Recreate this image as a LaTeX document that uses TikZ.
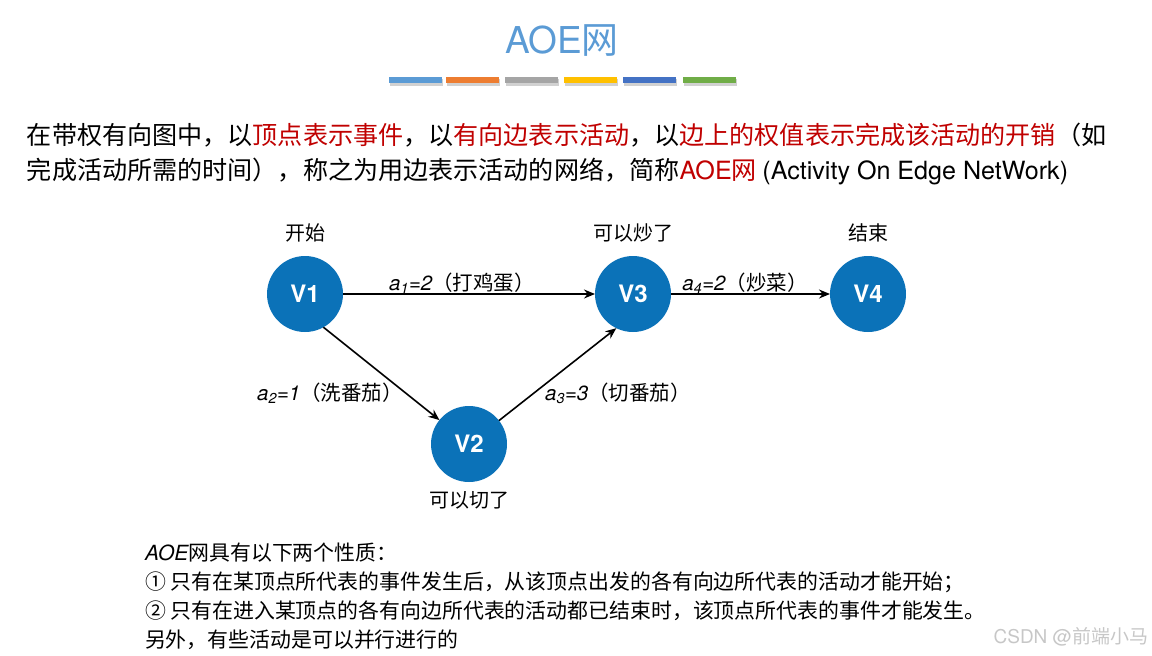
\documentclass[tikz,border=0pt]{standalone}
\usepackage{fontspec}
\setmainfont{Noto Sans CJK SC}
\newfontfamily\lat{TeX Gyre Heros}
\usetikzlibrary{arrows.meta}
\definecolor{nodeblue}{HTML}{0B72B8}
\definecolor{titleblue}{HTML}{5B9BD5}
\definecolor{hlred}{HTML}{C00000}
\definecolor{barA}{HTML}{5B9BD5}
\definecolor{barB}{HTML}{ED7D31}
\definecolor{barC}{HTML}{A5A5A5}
\definecolor{barD}{HTML}{FFC000}
\definecolor{barE}{HTML}{4472C4}
\definecolor{barF}{HTML}{70AD47}
\newcommand\fs[1]{\fontsize{#1}{#1}\selectfont}
\newcommand\ai[2]{{\lat\itshape a\textsubscript{#1}=#2}}
\begin{document}
\begin{tikzpicture}[x=1pt,y=-1pt,
  every node/.style={inner sep=0pt,outer sep=0pt},
  vtx/.style={circle,fill=nodeblue,minimum size=76pt,text=white,font=\lat\bfseries\fs{24}},
  vlab/.style={font=\fs{20}},
  elab/.style={font=\fs{20.5}},
  arr/.style={-{Stealth[length=11pt,width=9pt]},line width=1.6pt},
  para/.style={anchor=base west,font=\fs{25.1}},
  prop/.style={anchor=base west,font=\fs{20.9}}]
\useasboundingbox (0,0) rectangle (1152,656);
% title
\node[anchor=base,text=titleblue,font=\fs{37}] (title) at (562,53) {{\lat AOE}网};
% bars
\foreach \x/\c in {389/barA,446/barB,505/barC,564/barD,623/barE,683/barF}{
  \fill[black,opacity=0.18] (\x+1,79) rectangle ++(53,7);
  \fill[\c] (\x,77) rectangle ++(53,6);
}
% paragraph
\node[para] (p1) at (27,144.5) {在带权有向图中，以{\color{hlred}顶点表示事件}，以{\color{hlred}有向边表示活动}，以{\color{hlred}边上的权值表示完成该活动的开销}（如};
\node[para] (p2) at (27,179.5) {完成活动所需的时间），称之为用边表示活动的网络，简称{\color{hlred}{\lat AOE}网} {\lat (Activity On Edge NetWork)}};
% vertices
\node[vtx] (v1) at (305,294) {V1};
\node[vtx] (v2) at (469,444) {V2};
\node[vtx] (v3) at (633,294) {V3};
\node[vtx] (v4) at (868,294) {V4};
\node[vlab] (t1) at (305,233) {开始};
\node[vlab] (t3) at (633,233) {可以炒了};
\node[vlab] (t4) at (868,233) {结束};
\node[vlab] (t2) at (469,500) {可以切了};
% edges
\draw[arr] (v1) -- (v3);
\draw[arr] (v3) -- (v4);
\draw[arr] (v1.299) -- (v2.141);
\draw[arr] (v2.38) -- (v3.244);
\node[elab] (l1) at (462,283) {\ai{1}{2}（打鸡蛋）};
\node[elab] (l4) at (745,283) {\ai{4}{2}（炒菜）};
\node[elab] (l2) at (330,393) {\ai{2}{1}（洗番茄）};
\node[elab] (l3) at (618,393) {\ai{3}{3}（切番茄）};
% properties
\node[prop] (q1) at (145,560) {{\lat\itshape AOE}网具有以下两个性质：};
\node[prop] (q2) at (145,589) {① 只有在某顶点所代表的事件发生后，从该顶点出发的各有向边所代表的活动才能开始；};
\node[prop] (q3) at (145,618) {② 只有在进入某顶点的各有向边所代表的活动都已结束时，该顶点所代表的事件才能发生。};
\node[prop] (q4) at (145,647) {另外，有些活动是可以并行进行的};
% watermark
\node[anchor=base east,text=black!22,font=\fs{19}] (wm) at (1148,643) {{\lat CSDN @}前端小马};
\end{tikzpicture}
\end{document}
